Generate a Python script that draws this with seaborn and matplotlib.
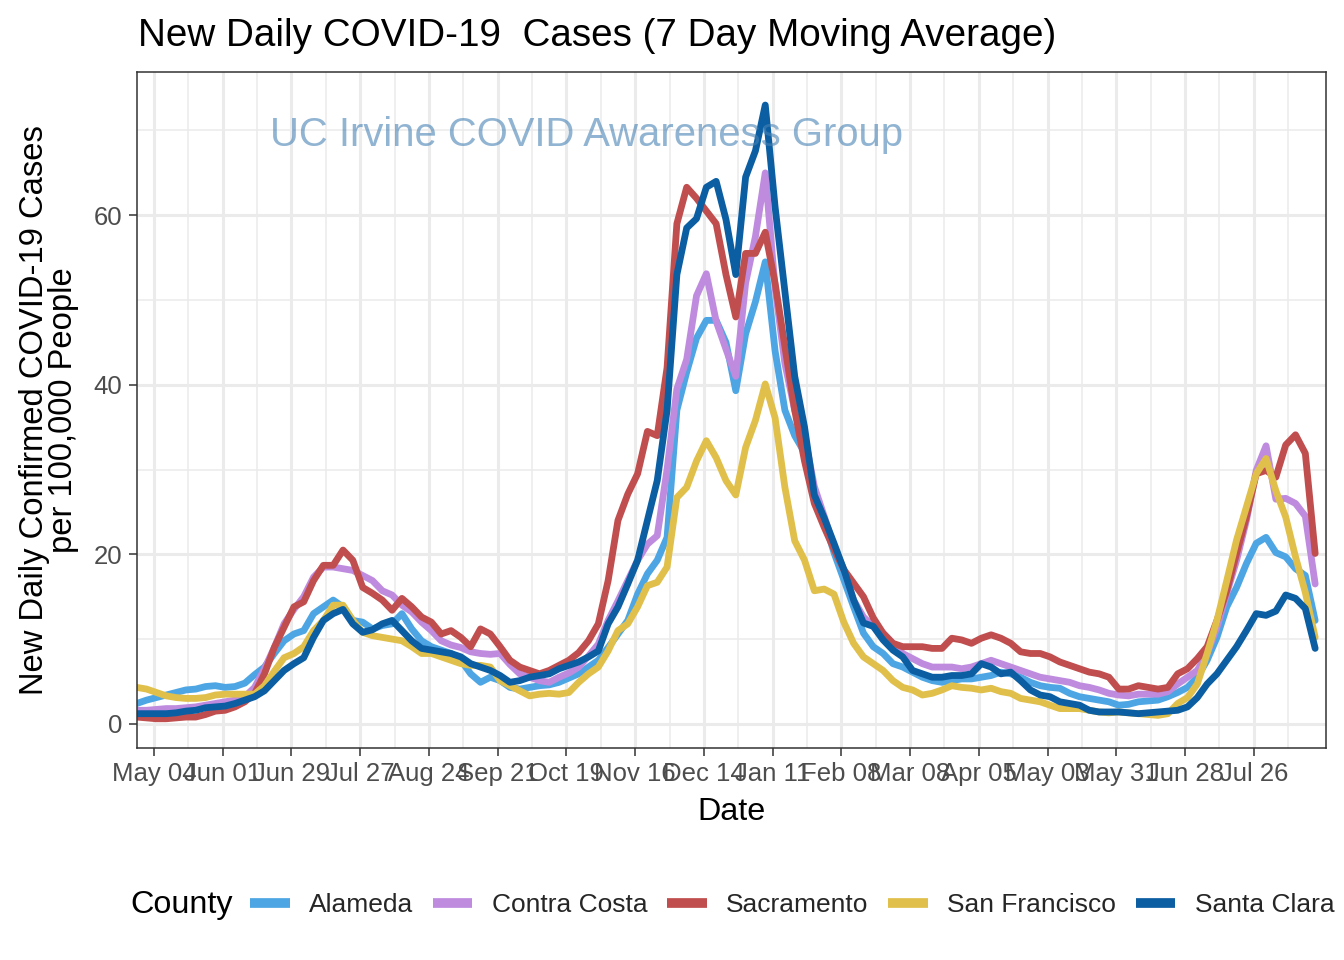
import numpy as np
import pandas as pd
import matplotlib
matplotlib.use("Agg")
import matplotlib.pyplot as plt
import matplotlib.dates as mdates
from matplotlib.lines import Line2D
import seaborn as sns

# 7 day moving average of new daily cases per 100k, sampled every 4 days
dates = pd.date_range("2020-04-27", periods=121, freq="4D")

alameda = [
    2.4, 2.8, 3.1, 3.4, 3.7, 4.0, 4.1, 4.4, 4.5, 4.3,
    4.4, 4.8, 5.8, 6.7, 8.3, 9.8, 10.6, 11.0, 13.0, 13.8,
    14.6, 13.8, 12.2, 12.0, 11.2, 11.6, 11.8, 13.0, 11.2, 9.8,
    9.1, 8.7, 8.3, 7.5, 5.9, 4.9, 5.5, 5.1, 4.3, 4.1,
    4.3, 4.5, 4.6, 4.9, 5.4, 5.9, 6.7, 7.5, 9.0, 10.6,
    12.2, 15.3, 17.7, 19.3, 22.0, 37.0, 41.5, 45.5, 47.6, 47.6,
    45.0, 39.3, 46.0, 49.8, 54.5, 44.0, 37.0, 34.0, 32.0, 27.0,
    24.0, 20.2, 17.0, 13.8, 10.7, 9.1, 8.3, 7.1, 6.7, 6.1,
    5.5, 5.1, 4.9, 5.1, 5.3, 5.3, 5.5, 5.7, 6.1, 5.9,
    5.5, 4.9, 4.5, 4.3, 4.2, 3.6, 3.2, 3.0, 2.8, 2.6,
    2.2, 2.3, 2.6, 2.7, 2.8, 3.2, 3.7, 4.3, 5.5, 7.5,
    10.2, 13.8, 16.1, 18.9, 21.3, 22.0, 20.2, 19.7, 18.3, 17.5,
    12.2,
]
contra_costa = [
    1.6, 1.6, 1.7, 1.8, 1.8, 1.9, 2.0, 2.2, 2.4, 2.6,
    2.8, 3.2, 4.3, 6.5, 9.0, 11.8, 13.5, 15.0, 17.3, 18.5,
    18.5, 18.3, 18.1, 17.5, 16.9, 15.7, 15.2, 14.0, 13.2, 12.0,
    11.0, 9.8, 9.3, 9.0, 8.5, 8.3, 8.2, 8.3, 7.0, 5.9,
    5.5, 5.1, 4.9, 5.5, 6.0, 6.7, 8.0, 9.4, 12.2, 14.5,
    16.9, 19.3, 21.2, 22.2, 30.0, 39.5, 43.0, 50.5, 53.1, 47.5,
    44.2, 41.0, 52.0, 57.5, 65.0, 51.5, 42.5, 37.0, 34.0, 28.0,
    24.5, 20.9, 18.2, 14.6, 12.6, 11.5, 10.7, 9.5, 8.3, 7.7,
    7.1, 6.7, 6.7, 6.7, 6.5, 6.7, 7.1, 7.5, 7.1, 6.7,
    6.3, 5.9, 5.5, 5.3, 5.1, 4.9, 4.5, 4.3, 4.0, 3.6,
    3.4, 3.3, 3.5, 3.5, 3.5, 3.8, 4.7, 5.5, 6.3, 8.3,
    11.4, 15.4, 19.3, 24.0, 29.9, 32.8, 26.5, 26.6, 26.0, 24.5,
    16.5,
]
sacramento = [
    0.8, 0.7, 0.6, 0.6, 0.7, 0.8, 0.8, 1.1, 1.5, 1.6,
    2.0, 2.6, 3.6, 5.9, 9.0, 11.4, 13.8, 14.4, 16.9, 18.7,
    18.7, 20.5, 19.3, 16.1, 15.4, 14.6, 13.4, 14.8, 13.8, 12.6,
    12.0, 10.6, 11.0, 10.2, 9.1, 11.2, 10.6, 9.1, 7.5, 6.7,
    6.3, 5.9, 6.3, 6.9, 7.5, 8.4, 9.8, 11.8, 16.9, 24.0,
    27.1, 29.5, 34.5, 34.0, 42.0, 59.0, 63.3, 62.0, 60.5, 59.0,
    53.0, 48.0, 55.5, 55.5, 58.0, 52.0, 44.5, 37.0, 31.0, 26.0,
    23.2, 20.6, 18.2, 16.6, 15.0, 12.5, 10.7, 9.5, 9.1, 9.1,
    9.1, 8.9, 8.9, 10.1, 9.9, 9.5, 10.1, 10.5, 10.1, 9.5,
    8.5, 8.3, 8.3, 7.9, 7.3, 6.9, 6.5, 6.1, 5.9, 5.5,
    4.1, 4.1, 4.5, 4.3, 4.1, 4.3, 5.9, 6.5, 7.7, 9.1,
    12.2, 15.7, 20.1, 24.4, 29.5, 29.9, 29.1, 32.9, 34.1, 31.9,
    20.1,
]
san_francisco = [
    4.3, 4.1, 3.7, 3.3, 3.1, 3.0, 3.0, 3.1, 3.4, 3.5,
    3.5, 3.5, 3.5, 4.5, 6.2, 7.8, 8.3, 9.1, 11.0, 12.2,
    14.0, 14.0, 12.2, 10.8, 10.4, 10.2, 10.0, 9.8, 9.1, 8.3,
    8.3, 7.9, 7.5, 7.1, 6.9, 6.9, 6.7, 5.1, 4.5, 3.9,
    3.3, 3.5, 3.6, 3.5, 3.7, 4.9, 5.9, 6.7, 8.6, 11.0,
    11.8, 13.8, 16.3, 16.7, 18.5, 26.7, 27.9, 31.0, 33.4, 31.4,
    28.7, 27.0, 32.6, 35.8, 40.1, 36.1, 27.9, 21.6, 19.3, 15.7,
    15.9, 15.3, 12.0, 9.5, 7.9, 7.1, 6.3, 5.1, 4.3, 4.0,
    3.4, 3.6, 4.0, 4.5, 4.3, 4.2, 4.0, 4.2, 3.8, 3.6,
    3.0, 2.8, 2.6, 2.2, 1.8, 1.8, 1.8, 1.6, 1.4, 1.3,
    1.4, 1.3, 1.2, 1.1, 1.0, 1.2, 2.4, 3.1, 4.7, 8.3,
    12.2, 16.9, 21.7, 25.6, 29.5, 31.3, 27.5, 24.4, 19.7, 15.5,
    10.2,
]
santa_clara = [
    1.2, 1.2, 1.2, 1.2, 1.3, 1.5, 1.6, 1.9, 2.0, 2.1,
    2.4, 2.8, 3.2, 3.9, 5.1, 6.3, 7.1, 7.8, 10.2, 12.2,
    13.0, 13.5, 11.8, 10.8, 11.1, 11.8, 12.2, 11.0, 9.8, 8.9,
    8.7, 8.5, 8.3, 7.9, 7.1, 6.7, 6.3, 5.7, 4.9, 5.1,
    5.5, 5.7, 5.9, 6.5, 6.9, 7.3, 7.9, 8.6, 11.8, 13.8,
    16.5, 19.3, 24.0, 28.7, 37.0, 53.0, 58.5, 59.6, 63.3, 64.0,
    59.5, 53.0, 64.5, 67.6, 73.0, 61.0, 51.0, 41.0, 35.0, 27.0,
    24.3, 21.3, 18.2, 14.6, 11.9, 11.5, 9.9, 8.7, 7.9, 6.3,
    5.9, 5.5, 5.5, 5.7, 5.7, 5.9, 7.1, 6.7, 5.9, 6.1,
    5.1, 4.0, 3.4, 3.2, 2.6, 2.4, 2.2, 1.6, 1.4, 1.4,
    1.4, 1.3, 1.2, 1.3, 1.4, 1.5, 1.6, 2.0, 3.1, 4.7,
    5.9, 7.5, 9.1, 11.0, 13.0, 12.8, 13.3, 15.2, 14.8, 13.6,
    8.9,
]

counties = ["Alameda", "Contra Costa", "Sacramento", "San Francisco", "Santa Clara"]
colors = ["#4DA6E3", "#BF8BDF", "#C04E4E", "#E0C04A", "#0B5EA2"]

df = pd.DataFrame({
    "Date": dates,
    "Alameda": alameda,
    "Contra Costa": contra_costa,
    "Sacramento": sacramento,
    "San Francisco": san_francisco,
    "Santa Clara": santa_clara,
}).melt(id_vars="Date", var_name="County", value_name="Cases")

sns.set_theme(style="white")
plt.rcParams["font.family"] = ["Liberation Sans", "DejaVu Sans"]

fig = plt.figure(figsize=(13.44, 9.6), dpi=100)
ax = fig.add_axes([137 / 1344, 1 - 748 / 960, (1326 - 137) / 1344, (748 - 72) / 960])

sns.lineplot(data=df, x="Date", y="Cases", hue="County", hue_order=counties,
             palette=colors, linewidth=4.9, estimator=None, errorbar=None,
             legend=False, ax=ax, solid_joinstyle="round")

# axes / grid in the style of theme_bw
ax.set_xlim(pd.Timestamp("2020-04-27 02:00"), pd.Timestamp("2021-08-24 10:00"))
ax.set_ylim(-2.85, 76.9)
major = pd.date_range("2020-05-04", "2021-07-26", freq="28D")
minor = pd.date_range("2020-05-18", "2021-08-09", freq="28D")
ax.set_xticks(major)
ax.set_xticklabels([d.strftime("%b %d") for d in major])
ax.set_xticks(minor, minor=True)
ax.set_yticks([0, 20, 40, 60])
ax.set_yticks([10, 30, 50, 70], minor=True)
ax.grid(which="major", color="#EBEBEB", linewidth=2.2)
ax.grid(which="minor", color="#EBEBEB", linewidth=1.1)
ax.set_axisbelow(True)
for sp in ax.spines.values():
    sp.set_visible(True)
    sp.set_color("#333333")
    sp.set_linewidth(1.1)
ax.tick_params(which="major", length=5.8, width=1.1, color="#333333",
               labelsize=18.5, labelcolor="#4D4D4D", pad=4.6,
               bottom=True, left=True)
ax.tick_params(which="minor", length=0)
ax.set_xlabel("")
ax.set_ylabel("")

ax.text(pd.Timestamp("2020-10-27"), 68.2, "UC Irvine COVID Awareness Group",
        ha="center", va="baseline", fontsize=28.8, color="steelblue", alpha=0.6)

fig.text(138 / 1344, 1 - 46 / 960, "New Daily COVID-19  Cases (7 Day Moving Average)",
         ha="left", va="baseline", fontsize=27.8, color="black")
fig.text(731.5 / 1344, 1 - 812 / 960, "Date", ha="center", va="center",
         fontsize=23.3, color="black")
fig.text(49 / 1344, 1 - 410 / 960,
         "New Daily Confirmed COVID-19 Cases\nper 100,000 People",
         ha="center", va="center", rotation=90, multialignment="center",
         fontsize=23.6, color="black", linespacing=0.95)

# legend at the bottom, title on the left like ggplot
handles = [Line2D([], [], color=c, linewidth=7, solid_capstyle="butt") for c in colors]
fig.text(130 / 1344, 1 - 905 / 960, "County", ha="left", va="center",
         fontsize=23.3, color="black")
fig.legend(handles, counties, loc="center left",
           bbox_to_anchor=(250 / 1344, 1 - 905 / 960), ncol=5, frameon=False,
           fontsize=19.0, handlelength=1.5, handletextpad=0.74,
           columnspacing=0.74, borderpad=0, borderaxespad=0)

fig.savefig("out.png", dpi=100)
